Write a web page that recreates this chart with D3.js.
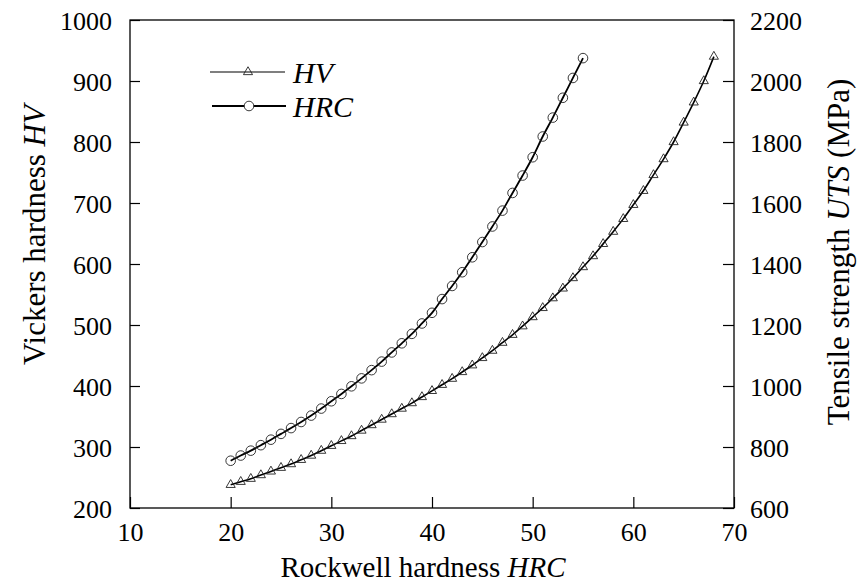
<!DOCTYPE html>
<html>
<head>
<meta charset="utf-8">
<script src="https://cdn.jsdelivr.net/npm/d3@7/dist/d3.min.js"></script>
<style>
  html, body { margin: 0; padding: 0; background: #fff; }
  svg { display: block; }
</style>
</head>
<body>
<svg id="chart" width="858" height="582"></svg>
<script>
// Rockwell hardness steps (HRC)
const hrcHV = d3.range(20, 69);          // 20 … 68
const hrcUTS = d3.range(20, 56);         // 20 … 55

// Vickers hardness for each HRC value
const hvValues = [238, 243, 248, 254, 260, 266, 272, 279, 286, 294,
                  302, 310, 318, 327, 336, 345, 354, 363, 372, 382,
                  392, 402, 412, 423, 434, 446, 458, 471, 484, 498,
                  513, 528, 544, 560, 577, 595, 613, 633, 653, 674,
                  697, 720, 746, 772, 800, 832, 865, 900, 940];

// Tensile strength (MPa) for each HRC value
const utsValues = [755, 772, 788, 806, 824, 843, 862, 882, 903, 926,
                   950, 974, 999, 1025, 1052, 1080, 1110, 1140, 1171, 1205,
                   1240, 1285, 1328, 1373, 1422, 1472, 1523, 1575, 1633, 1690,
                   1750, 1818, 1880, 1945, 2010, 2075];

const xTicks = [10, 20, 30, 40, 50, 60, 70];
const yLeftTicks = [200, 300, 400, 500, 600, 700, 800, 900, 1000];
const yRightTicks = [600, 800, 1000, 1200, 1400, 1600, 1800, 2000, 2200];

const FONT = "'Liberation Serif', Tinos, 'Times New Roman', Times, serif";

const svg = d3.select("#chart").attr("font-family", FONT);
const L = 130, R = 734, T = 20, B = 508;

const x = d3.scaleLinear().domain([10, 70]).range([L, R]);
const yL = d3.scaleLinear().domain([200, 1000]).range([B, T]);
const yR = d3.scaleLinear().domain([600, 2200]).range([B, T]);

const tickFont = "26px";

// frame
svg.append("rect")
  .attr("x", L).attr("y", T).attr("width", R - L).attr("height", B - T)
  .attr("fill", "none").attr("stroke", "#000").attr("stroke-width", 1.3);

// axes with inward ticks
const fmt = d3.format("d");
const gx = svg.append("g").attr("transform", `translate(0,${B})`)
  .call(d3.axisBottom(x).tickValues(xTicks).tickFormat(fmt)
    .tickSizeInner(-11).tickSizeOuter(0).tickPadding(13));
const gyl = svg.append("g").attr("transform", `translate(${L},0)`)
  .call(d3.axisLeft(yL).tickValues(yLeftTicks).tickFormat(fmt)
    .tickSizeInner(-10).tickSizeOuter(0).tickPadding(18));
const gyr = svg.append("g").attr("transform", `translate(${R},0)`)
  .call(d3.axisRight(yR).tickValues(yRightTicks).tickFormat(fmt)
    .tickSizeInner(-11).tickSizeOuter(0).tickPadding(16));

[gx, gyl, gyr].forEach(g => {
  g.attr("font-family", FONT).attr("font-size", tickFont);
  g.select(".domain").remove();
  g.selectAll(".tick line").attr("stroke", "#000").attr("stroke-width", 1.2);
  g.selectAll(".tick text").attr("fill", "#000");
});
gx.selectAll(".tick text").attr("dy", "0.75em");
gyl.selectAll(".tick text").attr("dy", "0.35em");
gyr.selectAll(".tick text").attr("dy", "0.35em");

// axis titles
const xt = svg.append("text")
  .attr("x", 423).attr("y", 577).attr("text-anchor", "middle")
  .attr("font-size", "29px");
xt.append("tspan").text("Rockwell hardness ");
xt.append("tspan").attr("font-style", "italic").text("HRC");

const ylt = svg.append("text")
  .attr("transform", `translate(45,235) rotate(-90)`)
  .attr("text-anchor", "middle").attr("font-size", "31px");
ylt.append("tspan").text("Vickers hardness ");
ylt.append("tspan").attr("font-style", "italic").text("HV");

const yrt = svg.append("text")
  .attr("transform", `translate(849,252) rotate(-90)`)
  .attr("text-anchor", "middle").attr("font-size", "31px");
yrt.append("tspan").text("Tensile strength ");
yrt.append("tspan").attr("font-style", "italic").text("UTS");
yrt.append("tspan").text(" (MPa)");

// series
const hvData = hrcHV.map((h, i) => ({ h, v: hvValues[i] }));
const utsData = hrcUTS.map((h, i) => ({ h, v: utsValues[i] }));

const lineHV = d3.line().x(d => x(d.h)).y(d => yL(d.v)).curve(d3.curveCatmullRom);
const lineUTS = d3.line().x(d => x(d.h)).y(d => yR(d.v)).curve(d3.curveCatmullRom);

svg.append("path").datum(hvData).attr("d", lineHV)
  .attr("fill", "none").attr("stroke", "#000").attr("stroke-width", 1.6);
svg.append("path").datum(utsData).attr("d", lineUTS)
  .attr("fill", "none").attr("stroke", "#000").attr("stroke-width", 1.8);

const tri = d3.symbol().type(d3.symbolTriangle).size(36);

svg.append("g").selectAll("path").data(hvData).join("path")
  .attr("d", tri)
  .attr("transform", d => `translate(${x(d.h)},${yL(d.v)})`)
  .attr("fill", "none").attr("stroke", "#222").attr("stroke-width", 0.9);

svg.append("g").selectAll("circle").data(utsData).join("circle")
  .attr("cx", d => x(d.h)).attr("cy", d => yR(d.v)).attr("r", 4.8)
  .attr("fill", "none").attr("stroke", "#222").attr("stroke-width", 0.9);

// legend
const lg = svg.append("g");
lg.append("line").attr("x1", 210).attr("x2", 285).attr("y1", 72).attr("y2", 72)
  .attr("stroke", "#000").attr("stroke-width", 1.1);
lg.append("path").attr("d", tri).attr("transform", "translate(248,72)")
  .attr("fill", "none").attr("stroke", "#222").attr("stroke-width", 0.9);
lg.append("text").attr("x", 293).attr("y", 83).attr("font-style", "italic")
  .attr("font-size", "30px").text("HV");

lg.append("line").attr("x1", 212).attr("x2", 286).attr("y1", 106).attr("y2", 106)
  .attr("stroke", "#000").attr("stroke-width", 2);
lg.append("circle").attr("cx", 249).attr("cy", 106).attr("r", 4.8)
  .attr("fill", "#fff").attr("stroke", "#222").attr("stroke-width", 0.9);
lg.append("text").attr("x", 293).attr("y", 117).attr("font-style", "italic")
  .attr("font-size", "30px").text("HRC");
</script>
</body>
</html>
